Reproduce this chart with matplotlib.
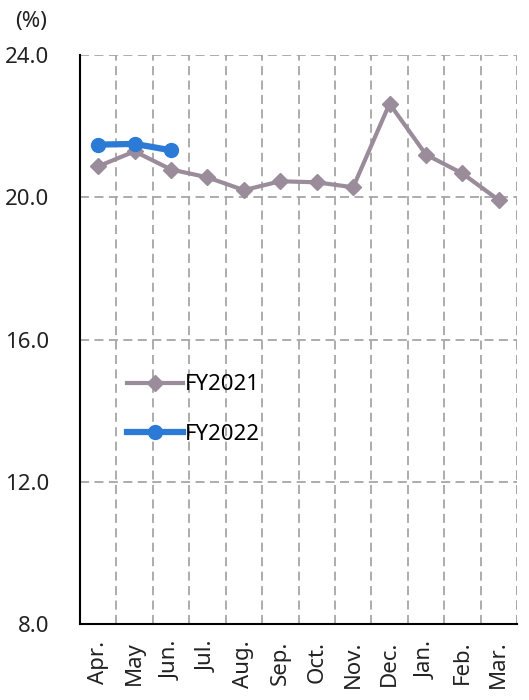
import matplotlib
matplotlib.use("Agg")
import matplotlib.pyplot as plt
import numpy as np

plt.rcParams['font.family'] = ['Noto Sans', 'DejaVu Sans']

months = ['Apr.', 'May', 'Jun.', 'Jul.', 'Aug.', 'Sep.', 'Oct.', 'Nov.', 'Dec.', 'Jan.', 'Feb.', 'Mar.']
fy2021 = [20.87, 21.29, 20.78, 20.56, 20.20, 20.45, 20.42, 20.28, 22.63, 21.20, 20.67, 19.92]
fy2022 = [21.48, 21.50, 21.32]
yticks = [8.0, 12.0, 16.0, 20.0, 24.0]

fig = plt.figure(figsize=(5.29, 7.0), dpi=100)
ax = fig.add_axes([80 / 529, 1 - 624 / 700, 437 / 529, 569 / 700])

x = np.arange(len(months))
ax.plot(x, fy2021, color='#9a8c9a', lw=3, marker='D', ms=8, label='FY2021', zorder=3)
ax.plot(x[:len(fy2022)], fy2022, color='#2b7bd6', lw=4.5, marker='o', ms=10, label='FY2022', zorder=4)

ax.set_xlim(-0.5, 11.5)
ax.set_ylim(8, 24)
ax.set_yticks(yticks)
ax.set_yticklabels([f'{v:.1f}' for v in yticks], fontsize=16, color='#222222')
ax.set_xticks(x)
ax.set_xticklabels(months, rotation=90, fontsize=16, color='#222222')
ax.set_xticks(np.arange(0.5, 12, 1), minor=True)
ax.tick_params(axis='both', which='both', length=0)
ax.tick_params(axis='y', pad=22)
ax.tick_params(axis='x', pad=12)

dash = (0, (5, 3))
ax.grid(True, which='minor', axis='x', ls=dash, color='#a6a6a6', lw=1.3)
ax.grid(True, which='major', axis='y', ls=dash, color='#a6a6a6', lw=1.3)
for s in ['top', 'right']:
    ax.spines[s].set_visible(False)
ax.axvline(11.5, ls=dash, color='#a6a6a6', lw=1.3)
ax.spines['left'].set_linewidth(1.5)
ax.spines['bottom'].set_linewidth(1.5)

ax.legend(loc='upper left', bbox_to_anchor=(0.062, 0.474), frameon=False, fontsize=16,
          handlelength=2.5, labelspacing=1.3, handletextpad=0.1)

fig.text(15 / 529, 1 - 22 / 700, '(%)', fontsize=16, color='#222222', va='center')

fig.savefig('out.png', dpi=100)
